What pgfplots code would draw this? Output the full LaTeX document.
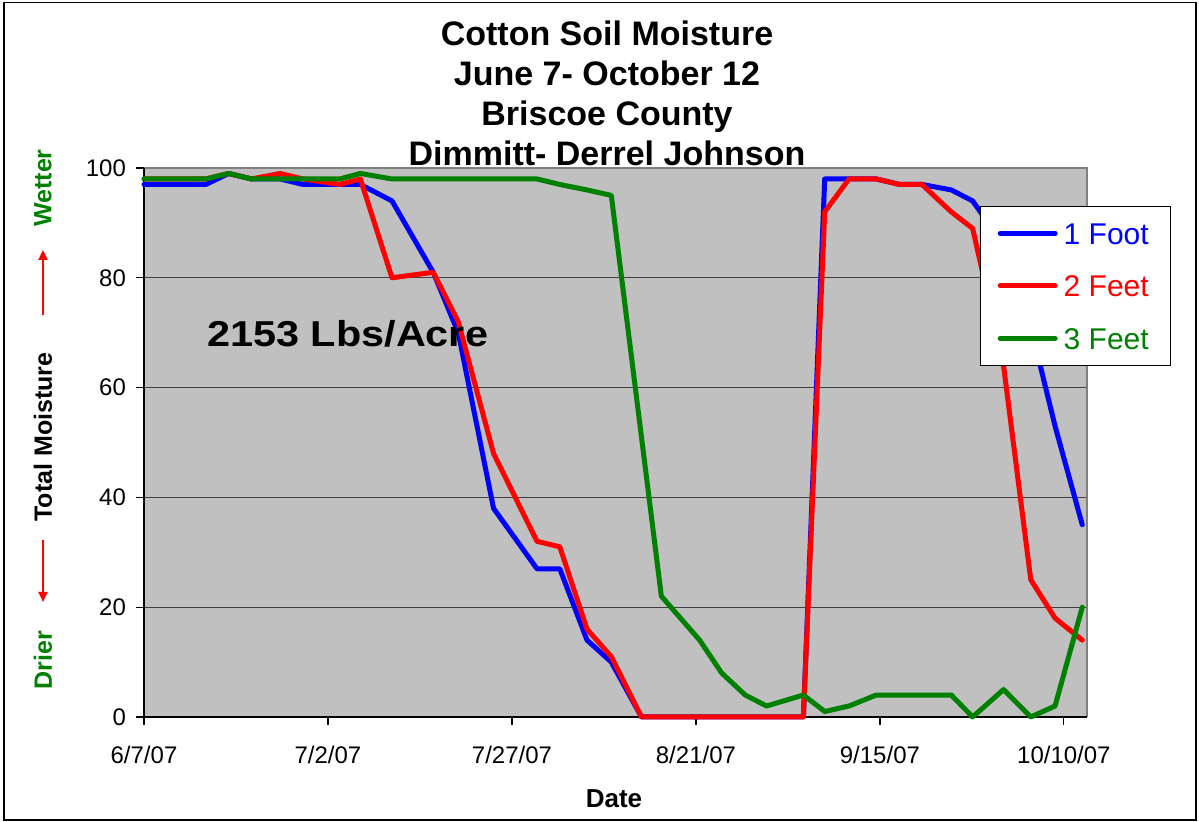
\documentclass[border=0pt]{standalone}
\usepackage{pgfplots}
\pgfplotsset{compat=1.18}
\usepackage{graphicx}
\usepackage{fontspec}
\setmainfont{Liberation Sans}
\usetikzlibrary{arrows.meta}
\definecolor{xlblue}{HTML}{0000FF}
\definecolor{xlred}{HTML}{FF0000}
\definecolor{xlgreen}{HTML}{008000}
\definecolor{plotbg}{HTML}{C0C0C0}
\definecolor{bordergray}{HTML}{808080}

\begin{document}
\begin{tikzpicture}
\useasboundingbox (0,0) rectangle (599.5pt,411pt);
\draw[black, line width=0.75pt] (2pt,1pt) rectangle (598pt,409.8pt);
\begin{axis}[
  at={(72pt,52.5pt)}, anchor=south west,
  scale only axis, width=471.35pt, height=274.5pt,
  xmin=0, xmax=128.1, ymin=0, ymax=100,
  clip=false,
  axis background/.style={fill=plotbg},
  axis line style={draw=none},
  ymajorgrids, major grid style={draw=black!75, line width=0.6pt},
  xtick={0,25,50,75,100,125},
  xticklabels={6/7/07,7/2/07,7/27/07,8/21/07,9/15/07,10/10/07},
  ytick={0,20,40,60,80,100},
  xtick pos=bottom, ytick pos=left,
  tick align=outside, major tick length=4pt,
  tick style={black, line width=0.6pt},
  ticklabel style={font=\fontsize{12}{14}\selectfont},
  /pgf/number format/assume math mode=true,
  xticklabel style={yshift=-7pt},
  yticklabel style={xshift=-1.5pt},
  legend style={at={(0.8865,0.931)}, anchor=north west, draw=black, line width=0.6pt,
    fill=white, font=\fontsize{15}{17}\selectfont, inner xsep=8.7pt, inner ysep=6pt,
    row sep=11.5pt, column sep=1pt,
    nodes={inner sep=2pt, text height=10.8pt, text depth=0pt}},
  legend cell align=left,
  legend image code/.code={\draw[#1] (0pt,0pt) -- (27.5pt,0pt);},
  every axis plot/.append style={line width=2.5pt, line join=round, line cap=round},
]
\draw[bordergray, line width=1pt] (rel axis cs:0,1) -- (rel axis cs:1,1) -- (rel axis cs:1,0);
\draw[black, line width=0.75pt] (rel axis cs:0,1) -- (rel axis cs:0,0) -- (rel axis cs:1,0);

% 1 Foot
\addplot[xlblue] coordinates {
(0,97) (8.4,97) (11.5,99) (14.6,98) (18.5,98) (21.6,97) (26.6,97) (29.4,97)
(33.7,94) (39.3,81) (42.7,70) (47.5,38) (53.4,27) (56.5,27) (60.2,14) (63.5,10)
(67.6,0) (70.3,0) (75.5,0) (78.5,0) (81.7,0) (84.6,0) (89.6,0) (92.5,98)
(95.8,98) (99.5,98) (102.7,97) (105.7,97) (109.7,96) (112.6,94) (116.8,86)
(120.5,71) (123.8,53) (127.5,35)
};
\addlegendentry{\color{xlblue}1 Foot}
% 2 Feet
\addplot[xlred] coordinates {
(0,98) (8.4,98) (11.5,99) (14.6,98) (18.5,99) (21.6,98) (26.6,97) (29.4,98)
(33.7,80) (39.3,81) (42.7,72) (47.5,48) (53.4,32) (56.5,31) (60.2,16) (63.5,11)
(67.6,0) (70.3,0) (75.5,0) (78.5,0) (81.7,0) (84.6,0) (89.6,0) (92.5,92)
(95.8,98) (99.5,98) (102.7,97) (105.7,97) (109.7,92) (112.6,89) (116.8,64)
(120.5,25) (123.8,18) (127.5,14)
};
\addlegendentry{\color{xlred}2 Feet}
% 3 Feet
\addplot[xlgreen] coordinates {
(0,98) (8.4,98) (11.5,99) (14.6,98) (18.5,98) (21.6,98) (26.6,98) (29.4,99)
(33.7,98) (39.3,98) (42.7,98) (47.5,98) (53.4,98) (56.5,97) (60.2,96) (63.5,95)
(70.3,22) (75.5,14) (78.5,8) (81.7,4) (84.6,2) (89.6,4) (92.5,1)
(95.8,2) (99.5,4) (102.7,4) (105.7,4) (109.7,4) (112.6,0) (116.8,5)
(120.5,0) (123.8,2) (127.5,20)
};
\addlegendentry{\color{xlgreen}3 Feet}
\end{axis}

% Title
\node[anchor=base, font=\bfseries\fontsize{17}{19}\selectfont] at (303.5pt,388pt) {Cotton Soil Moisture};
\node[anchor=base, font=\bfseries\fontsize{17}{19}\selectfont] at (303.5pt,368pt) {June 7- October 12};
\node[anchor=base, font=\bfseries\fontsize{17}{19}\selectfont] at (303.5pt,348pt) {Briscoe County};
\node[anchor=base, font=\bfseries\fontsize{17}{19}\selectfont] at (303.5pt,328pt) {Dimmitt- Derrel Johnson};

% Annotation
\node[anchor=base west, inner sep=0pt, font=\bfseries\fontsize{18}{20}\selectfont] at (103.5pt,237.75pt) {\scalebox{1.15}[1]{2153 Lbs/Acre}};

% Axis labels
\node[anchor=base, font=\bfseries\fontsize{13}{15}\selectfont] at (307pt,7pt) {Date};
\node[rotate=90, font=\bfseries\fontsize{12.5}{14}\selectfont, text=xlgreen] at (21.5pt,317pt) {Wetter};
\node[rotate=90, font=\bfseries\fontsize{12.5}{14}\selectfont] at (21.5pt,192.5pt) {Total Moisture};
\node[rotate=90, font=\bfseries\fontsize{12.5}{14}\selectfont, text=xlgreen] at (21.5pt,81pt) {Drier};
\draw[xlred, line width=1pt, -{Triangle[length=5pt,width=4.5pt]}] (21.5pt,253.5pt) -- (21.5pt,286pt);
\draw[xlred, line width=1pt, -{Triangle[length=5pt,width=4.5pt]}] (21.5pt,141pt) -- (21.5pt,110pt);
\end{tikzpicture}
\end{document}
